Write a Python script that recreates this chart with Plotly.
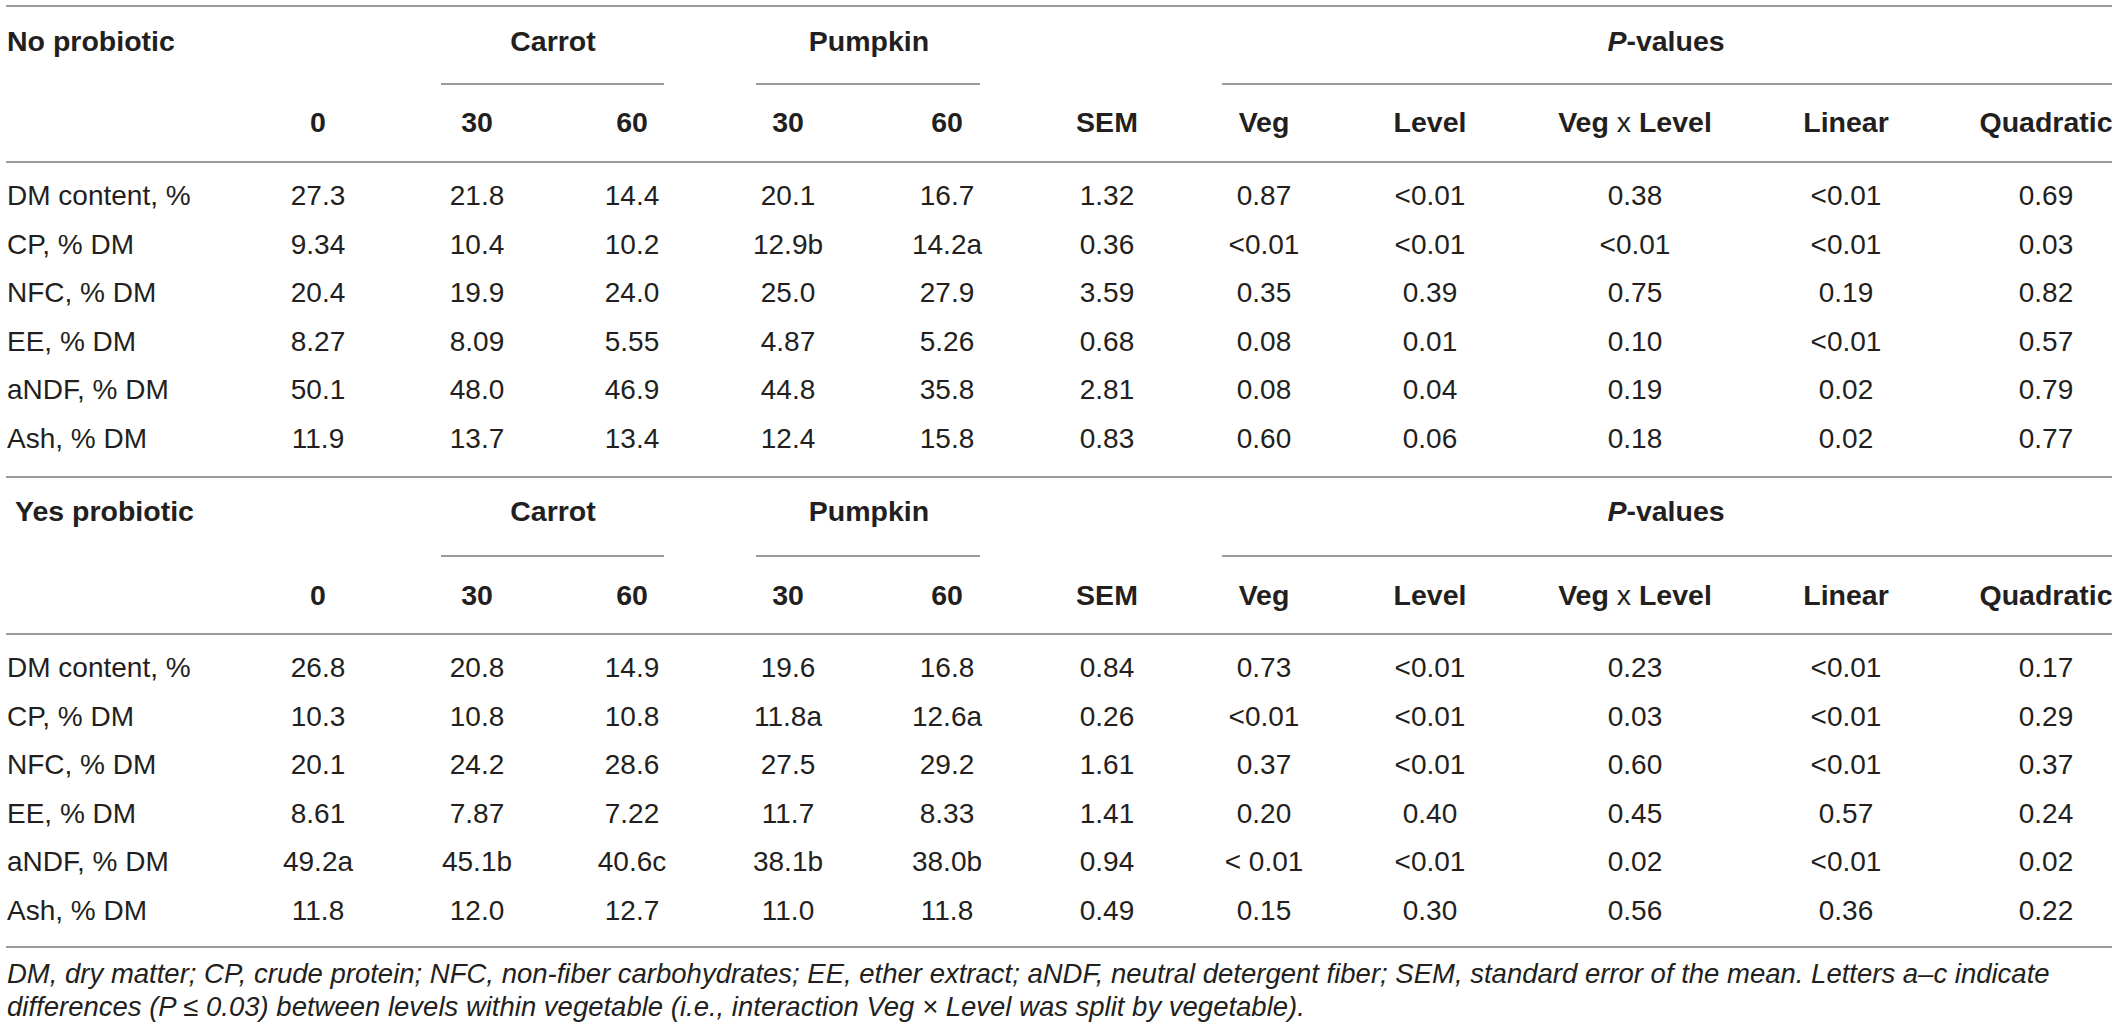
import plotly.graph_objects as go

# ---------------- data ----------------
row_labels = ["DM content, %", "CP, % DM", "NFC, % DM", "EE, % DM", "aNDF, % DM", "Ash, % DM"]
level_headers = ["0", "30", "60", "30", "60", "SEM", "Veg", "Level", "Veg x Level", "Linear", "Quadratic"]
group_headers = ["Carrot", "Pumpkin", "<i>P</i>-values"]
section_titles = ["No probiotic", "Yes probiotic"]

no_probiotic = [
    ["27.3", "21.8", "14.4", "20.1", "16.7", "1.32", "0.87", "<0.01", "0.38", "<0.01", "0.69"],
    ["9.34", "10.4", "10.2", "12.9b", "14.2a", "0.36", "<0.01", "<0.01", "<0.01", "<0.01", "0.03"],
    ["20.4", "19.9", "24.0", "25.0", "27.9", "3.59", "0.35", "0.39", "0.75", "0.19", "0.82"],
    ["8.27", "8.09", "5.55", "4.87", "5.26", "0.68", "0.08", "0.01", "0.10", "<0.01", "0.57"],
    ["50.1", "48.0", "46.9", "44.8", "35.8", "2.81", "0.08", "0.04", "0.19", "0.02", "0.79"],
    ["11.9", "13.7", "13.4", "12.4", "15.8", "0.83", "0.60", "0.06", "0.18", "0.02", "0.77"],
]
yes_probiotic = [
    ["26.8", "20.8", "14.9", "19.6", "16.8", "0.84", "0.73", "<0.01", "0.23", "<0.01", "0.17"],
    ["10.3", "10.8", "10.8", "11.8a", "12.6a", "0.26", "<0.01", "<0.01", "0.03", "<0.01", "0.29"],
    ["20.1", "24.2", "28.6", "27.5", "29.2", "1.61", "0.37", "<0.01", "0.60", "<0.01", "0.37"],
    ["8.61", "7.87", "7.22", "11.7", "8.33", "1.41", "0.20", "0.40", "0.45", "0.57", "0.24"],
    ["49.2a", "45.1b", "40.6c", "38.1b", "38.0b", "0.94", "< 0.01", "<0.01", "0.02", "<0.01", "0.02"],
    ["11.8", "12.0", "12.7", "11.0", "11.8", "0.49", "0.15", "0.30", "0.56", "0.36", "0.22"],
]
footnote_lines = [
    "DM, dry matter; CP, crude protein; NFC, non-fiber carbohydrates; EE, ether extract; aNDF, neutral detergent fiber; SEM, standard error of the mean. Letters a\u2013c indicate",
    "differences (P \u2264 0.03) between levels within vegetable (i.e., interaction Veg \u00d7 Level was split by vegetable).",
]

# ---------------- layout constants ----------------
W, H = 2118, 1033
FONT = "Liberation Sans, Arial, Helvetica, sans-serif"
TXT = "#231f20"
LINE = "#9b9b9b"
FS = 28
FS_HEAD = 28.5
label_x = 7
col_x = [318, 477, 632, 788, 947, 1107, 1264, 1430, 1635, 1846, 2046]
group_x = [553, 869, 1666]
group_spans = [(441, 664), (756, 980), (1222, 2112)]
left_edge, right_edge = 6, 2112
pitch = 48.5
sections = [
    dict(top=6, title_x=7, title_y=44, span_y=84, head_y=125, rule_y=162, row0=198),
    dict(top=477, title_x=15, title_y=514, span_y=556, head_y=598, rule_y=634, row0=670),
]
bottom_rule = 947
foot_y = [976, 1009]


def esc(s):
    return s.replace("<0", "&lt;0").replace("< 0", "&lt; 0")


def header_html(s):
    if " x " in s:
        a, b = s.split(" x ")
        return f"<b>{a}</b> x <b>{b}</b>"
    return f"<b>{s}</b>"


fig = go.Figure()
shapes = []

for sec, title, data in zip(sections, section_titles, [no_probiotic, yes_probiotic]):
    rows_y = [sec["row0"] + i * pitch for i in range(len(row_labels))]
    # row labels
    fig.add_trace(go.Scatter(
        x=[label_x] * len(row_labels), y=rows_y, text=row_labels, mode="text",
        textposition="middle right", textfont=dict(family=FONT, size=FS, color=TXT),
        hoverinfo="skip", showlegend=False))
    # values
    for j, cx in enumerate(col_x):
        fig.add_trace(go.Scatter(
            x=[cx] * len(data), y=rows_y, text=[esc(r[j]) for r in data], mode="text",
            textposition="middle center", textfont=dict(family=FONT, size=FS, color=TXT),
            hoverinfo="skip", showlegend=False))
    # level headers
    fig.add_trace(go.Scatter(
        x=col_x, y=[sec["head_y"]] * len(col_x), text=[header_html(h) for h in level_headers],
        mode="text", textposition="middle center",
        textfont=dict(family=FONT, size=FS_HEAD, color=TXT), hoverinfo="skip", showlegend=False))
    # group headers
    fig.add_trace(go.Scatter(
        x=group_x, y=[sec["title_y"]] * len(group_x), text=[f"<b>{g}</b>" for g in group_headers],
        mode="text", textposition="middle center",
        textfont=dict(family=FONT, size=FS_HEAD, color=TXT), hoverinfo="skip", showlegend=False))
    # section title
    fig.add_trace(go.Scatter(
        x=[sec["title_x"]], y=[sec["title_y"]], text=[f"<b>{title}</b>"], mode="text",
        textposition="middle right", textfont=dict(family=FONT, size=FS_HEAD, color=TXT),
        hoverinfo="skip", showlegend=False))
    # rules
    shapes.append(dict(type="line", xref="x", yref="y", x0=left_edge, x1=right_edge,
                       y0=sec["top"], y1=sec["top"], line=dict(color=LINE, width=2)))
    shapes.append(dict(type="line", xref="x", yref="y", x0=left_edge, x1=right_edge,
                       y0=sec["rule_y"], y1=sec["rule_y"], line=dict(color=LINE, width=2)))
    for (a, b) in group_spans:
        shapes.append(dict(type="line", xref="x", yref="y", x0=a, x1=b,
                           y0=sec["span_y"], y1=sec["span_y"], line=dict(color=LINE, width=2)))

shapes.append(dict(type="line", xref="x", yref="y", x0=left_edge, x1=right_edge,
                   y0=bottom_rule, y1=bottom_rule, line=dict(color=LINE, width=2)))

fig.add_trace(go.Scatter(
    x=[label_x] * len(footnote_lines), y=foot_y, text=[f"<i>{t}</i>" for t in footnote_lines],
    mode="text", textposition="middle right",
    textfont=dict(family=FONT, size=27.5, color=TXT), hoverinfo="skip", showlegend=False))

fig.update_layout(
    width=W, height=H, margin=dict(l=0, r=0, t=0, b=0),
    paper_bgcolor="white", plot_bgcolor="white",
    xaxis=dict(range=[0, W], visible=False, fixedrange=True),
    yaxis=dict(range=[H, 0], visible=False, fixedrange=True),
    shapes=shapes,
)

fig.write_html(
    "out.html",
    config={"displayModeBar": False, "staticPlot": True},
    post_script="document.body.style.margin='0';document.body.style.overflow='hidden';",
)
